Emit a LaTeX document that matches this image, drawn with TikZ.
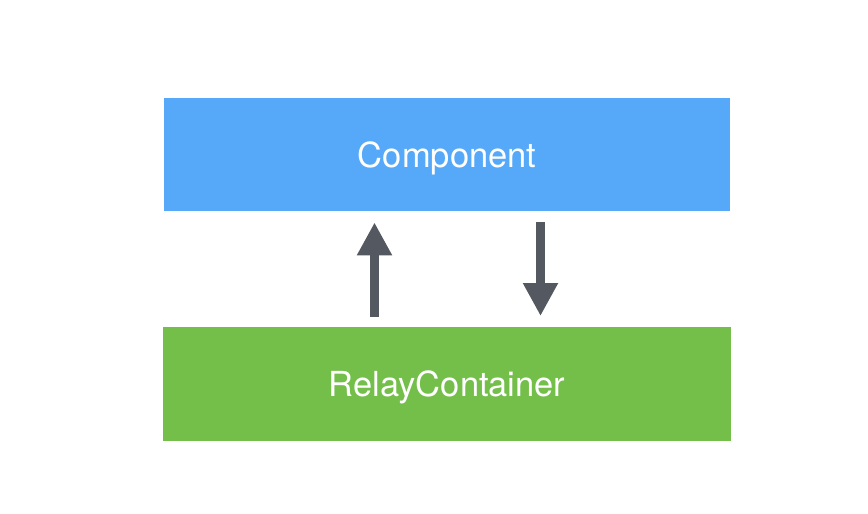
\documentclass[tikz,border=0pt]{standalone}
\usepackage{fontspec}
\setmainfont{TeX Gyre Heros}
\usetikzlibrary{arrows.meta}
\definecolor{boxblue}{HTML}{55A9F8}
\definecolor{boxgreen}{HTML}{74BE4A}
\definecolor{arrgray}{HTML}{545860}
\tikzset{
  box/.style={draw=none, anchor=north west, inner sep=0pt, text=white,
    font=\fontsize{34.5}{40}\selectfont, text height=24.8pt, text depth=0pt},
  flow/.style={draw=arrgray, line width=9pt,
    -{Triangle[length=33pt,width=33pt]}, arrgray}
}
\begin{document}
\begin{tikzpicture}[x=1pt,y=-1pt]
\useasboundingbox (0,0) rectangle (868,514);
\node[box, fill=boxblue, minimum width=566pt, minimum height=113pt] (comp) at (164,98) {Component};
\node[box, fill=boxgreen, minimum width=568pt, minimum height=114pt] (relay) at (163,327) {RelayContainer};
\coordinate (upx) at (374.5,0);
\coordinate (downx) at (540.5,0);
\draw[flow, shorten <=10pt, shorten >=11pt] (relay.north -| upx) -- (comp.south -| upx);
\draw[flow, shorten <=11pt, shorten >=11pt] (comp.south -| downx) -- (relay.north -| downx);
\end{tikzpicture}
\end{document}
